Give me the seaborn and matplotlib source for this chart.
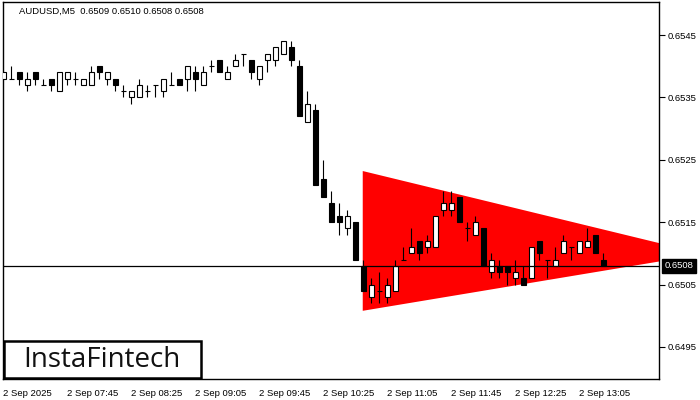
import matplotlib
matplotlib.use("Agg")
import matplotlib.pyplot as plt
from matplotlib.patches import Polygon, Rectangle
import seaborn as sns

# ---------------------------------------------------------------------
# Data: AUDUSD M5 candles, 2 Sep 2025 07:05 .. 13:20 (one row per bar)
# ---------------------------------------------------------------------
opens = [0.6538, 0.6538, 0.6539, 0.6537, 0.6539, 0.6537, 0.6538, 0.6536, 0.6538, 0.6538,
         0.6537, 0.6537, 0.6540, 0.6538, 0.6538, 0.6536, 0.6535, 0.6535, 0.6536, 0.6537,
         0.6536, 0.6537, 0.6538, 0.6538, 0.6539, 0.6537, 0.6540, 0.6541, 0.6538, 0.6540,
         0.6542, 0.6541, 0.6538, 0.6541, 0.6541, 0.6542, 0.6543, 0.6540, 0.6531, 0.6533,
         0.6522, 0.6518, 0.6516, 0.6514, 0.6515, 0.6508, 0.6503, 0.6504, 0.6503, 0.6504,
         0.6509, 0.6510, 0.6512, 0.6511, 0.6511, 0.6517, 0.6517, 0.6519, 0.6514, 0.6513,
         0.6514, 0.6507, 0.6508, 0.6508, 0.6506, 0.6506, 0.6506, 0.6512, 0.6509, 0.6508,
         0.6510, 0.6511, 0.6510, 0.6511, 0.6513, 0.6509]
highs = [0.6539, 0.6540, 0.6539, 0.6539, 0.6539, 0.6538, 0.6538, 0.6539, 0.6539, 0.6539,
         0.6538, 0.6540, 0.6540, 0.6539, 0.6538, 0.6537, 0.6536, 0.6538, 0.6537, 0.6537,
         0.6538, 0.6539, 0.6538, 0.6540, 0.6540, 0.6540, 0.6541, 0.6541, 0.6540, 0.6542,
         0.6542, 0.6541, 0.6540, 0.6542, 0.6543, 0.6544, 0.6544, 0.6541, 0.6536, 0.6534,
         0.6525, 0.6520, 0.6518, 0.6517, 0.6515, 0.6509, 0.6506, 0.6507, 0.6506, 0.6509,
         0.6511, 0.6514, 0.6512, 0.6513, 0.6516, 0.6520, 0.6520, 0.6519, 0.6515, 0.6516,
         0.6514, 0.6510, 0.6509, 0.6508, 0.6509, 0.6508, 0.6511, 0.6512, 0.6509, 0.6511,
         0.6513, 0.6511, 0.6512, 0.6514, 0.6513, 0.6510]
lows = [0.6538, 0.6538, 0.6537, 0.6536, 0.6537, 0.6537, 0.6536, 0.6536, 0.6537, 0.6537,
        0.6537, 0.6537, 0.6538, 0.6537, 0.6536, 0.6535, 0.6534, 0.6535, 0.6535, 0.6535,
        0.6535, 0.6537, 0.6537, 0.6536, 0.6536, 0.6537, 0.6539, 0.6539, 0.6538, 0.6540,
        0.6540, 0.6538, 0.6537, 0.6539, 0.6540, 0.6542, 0.6540, 0.6532, 0.6531, 0.6521,
        0.6519, 0.6515, 0.6513, 0.6513, 0.6509, 0.6504, 0.6502, 0.6502, 0.6502, 0.6504,
        0.6509, 0.6510, 0.6509, 0.6510, 0.6511, 0.6516, 0.6516, 0.6515, 0.6512, 0.6513,
        0.6508, 0.6506, 0.6506, 0.6505, 0.6505, 0.6505, 0.6506, 0.6509, 0.6506, 0.6508,
        0.6510, 0.6509, 0.6510, 0.6511, 0.6510, 0.6508]
closes = [0.6539, 0.6538, 0.6538, 0.6538, 0.6538, 0.6537, 0.6537, 0.6539, 0.6539, 0.6538,
          0.6538, 0.6539, 0.6539, 0.6539, 0.6537, 0.6536, 0.6536, 0.6537, 0.6536, 0.6537,
          0.6538, 0.6537, 0.6537, 0.6540, 0.6538, 0.6539, 0.6540, 0.6539, 0.6539, 0.6541,
          0.6542, 0.6539, 0.6540, 0.6542, 0.6543, 0.6544, 0.6541, 0.6532, 0.6534, 0.6521,
          0.6519, 0.6515, 0.6515, 0.6516, 0.6509, 0.6504, 0.6505, 0.6504, 0.6505, 0.6508,
          0.6509, 0.6511, 0.6510, 0.6512, 0.6516, 0.6518, 0.6518, 0.6515, 0.6514, 0.6515,
          0.6508, 0.6509, 0.6507, 0.6507, 0.6507, 0.6505, 0.6511, 0.6510, 0.6509, 0.6509,
          0.6512, 0.6511, 0.6512, 0.6512, 0.6510, 0.6508]

# time axis labels, every 8th bar (40 minutes)
tick_bars = [0, 8, 16, 24, 32, 40, 48, 56, 64, 72]
tick_labels = ["2 Sep 2025", "2 Sep 07:45", "2 Sep 08:25", "2 Sep 09:05", "2 Sep 09:45",
               "2 Sep 10:25", "2 Sep 11:05", "2 Sep 11:45", "2 Sep 12:25", "2 Sep 13:05"]
price_ticks = [0.6495, 0.6505, 0.6515, 0.6525, 0.6535, 0.6545]

# symmetrical triangle pattern (bar index, price)
tri_bars = [44.93, 44.93, 87.6]
tri_prices = [0.65232, 0.65008, 0.65099]

bid = 0.6508
title = "AUDUSD,M5  0.6509 0.6510 0.6508 0.6508"

# ---------------------------------------------------------------------
sns.set_theme(style="white")
plt.rcParams["font.family"] = ["Liberation Sans", "DejaVu Sans"]

fig = plt.figure(figsize=(7, 4), dpi=100)
ax = fig.add_axes([2.5 / 700, 21 / 400, 656.8 / 700, 377 / 400])

ax.add_patch(Polygon(list(zip(tri_bars, tri_prices)), closed=True,
                     facecolor="#ff0000", edgecolor="none", zorder=1))

lw = 0.8
for i, (o, h, l, c) in enumerate(zip(opens, highs, lows, closes)):
    ax.vlines(i, l, h, color="black", linewidth=lw, zorder=3)
    bull = c > o
    ax.bar(i, abs(c - o), bottom=min(o, c), width=0.62,
           color="white" if bull else "black", edgecolor="black",
           linewidth=lw, zorder=4)

ax.axhline(bid, color="black", linewidth=0.9, zorder=5)

ax.set_xlim(-0.1, 82.0)
ax.set_ylim(0.648987, 0.655029)

ax.yaxis.tick_right()
ax.set_yticks(price_ticks)
ax.set_yticklabels([f"{p:.4f}" for p in price_ticks])
ax.set_xticks(tick_bars)
ax.set_xticklabels(tick_labels)
plt.setp(ax.get_xticklabels(), ha="left")
ax.tick_params(axis="both", direction="out", length=4, width=0.8, color="black",
               labelsize=6.8, labelcolor="black", pad=2)
ax.tick_params(axis="x", pad=3)
for s in ax.spines.values():
    s.set_color("black")
    s.set_linewidth(1.0)
ax.grid(False)

# current price tag on the axis
ax.text(1.0 + 5 / 656.8, bid, "0.6508", transform=ax.get_yaxis_transform(),
        ha="left", va="center", fontsize=6.8, color="white",
        bbox=dict(boxstyle="square,pad=0.25", facecolor="black", edgecolor="black"),
        clip_on=False)

fig.text(19 / 700, 1 - 11 / 400, title, ha="left", va="center", fontsize=6.8,
         color="black")

# logo box
fig.patches.append(Rectangle((3.5 / 700, 22 / 400), 197 / 700, 37 / 400,
                             transform=fig.transFigure, facecolor="white",
                             edgecolor="black", linewidth=1.8, zorder=10))
fig.text(102 / 700, 1 - 360 / 400, "InstaFintech", ha="center", va="center",
         fontsize=20, family=["Open Sans", "DejaVu Sans"], color="#111111", zorder=11)

fig.savefig("out.png", dpi=100, facecolor="white")
